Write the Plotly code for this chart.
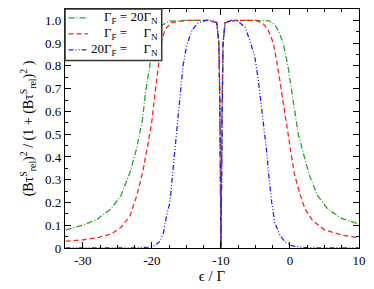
import plotly.graph_objects as go

# ---- data ----
green_x = [-32.5, -30, -28, -26, -24.5, -23.2, -22.2, -21.4, -20.9, -20.3, -19.6, -18.5, -17.4, -15, -12,
           -10.6, -10.3, -10.15, -10, -9.85, -9.7, -9.4, -8, -5, -3, -2.2, -1.6, -1.0, -0.3, 0.2, 0.7,
           1.2, 1.9, 2.8, 4, 5.5, 7.5, 10]
green_y = [0.08, 0.10, 0.125, 0.17, 0.23, 0.33, 0.44, 0.56, 0.69, 0.815, 0.94, 0.98, 0.997, 1.0, 1.0,
           0.99, 0.9, 0.6, 0.0, 0.6, 0.9, 0.99, 1.0, 1.0, 0.998, 0.98, 0.95, 0.9, 0.8, 0.7, 0.6,
           0.5, 0.42, 0.32, 0.23, 0.17, 0.13, 0.105]

red_x = [-32.5, -30, -28, -26, -24.5, -23.2, -22.2, -21.3, -20.5, -20.0, -19.6, -19.1, -18.6, -18.1,
         -17.2, -15, -12, -10.6, -10.3, -10.15, -10, -9.85, -9.7, -9.4, -8, -5, -4, -3.2, -2.4, -1.8,
         -1.2, -0.6, 0, 0.6, 1.4, 2.2, 3.3, 5, 7.5, 10]
red_y = [0.03, 0.036, 0.045, 0.06, 0.09, 0.14, 0.23, 0.34, 0.47, 0.56, 0.67, 0.80, 0.91, 0.96,
         0.99, 1.0, 1.0, 0.99, 0.9, 0.6, 0.0, 0.6, 0.9, 0.99, 1.0, 1.0, 0.99, 0.96, 0.9, 0.8,
         0.68, 0.55, 0.44, 0.33, 0.24, 0.17, 0.12, 0.08, 0.057, 0.045]

blue_x = [-32.5, -26, -22, -20.5, -19.5, -18.8, -18.3, -17.9, -17.4, -16.9, -16.4, -15.9, -15.5, -15.0,
          -14.2, -13.3, -12.1, -11, -10.6, -10.3, -10.15, -10, -9.85, -9.7, -9.4, -8.5, -7.5, -6.5,
          -5.8, -5.1, -4.6, -4.1, -3.7, -3.4, -3.1, -2.65, -2.2, -1.45, -0.7, 0.25, 2, 5, 10]
blue_y = [0, 0, 0.001, 0.004, 0.012, 0.03, 0.07, 0.14, 0.2, 0.36, 0.53, 0.67, 0.8, 0.885,
          0.957, 0.99, 1.0, 1.0, 0.99, 0.9, 0.6, 0.0, 0.6, 0.9, 0.99, 1.0, 0.995, 0.97,
          0.91, 0.84, 0.74, 0.61, 0.53, 0.43, 0.33, 0.2, 0.11, 0.056, 0.027, 0.01, 0.002, 0, 0]

x_ticks = [-30, -20, -10, 0, 10]
x_tick_text = ["-30", "-20", "-10", "0", "10"]
y_ticks = [0, 0.1, 0.2, 0.3, 0.4, 0.5, 0.6, 0.7, 0.8, 0.9, 1.0]
y_tick_text = ["0", "0.1", "0.2", "0.3", "0.4", "0.5", "0.6", "0.7", "0.8", "0.9", "1.0"]

FS = "\u2007"
names = [
    "Γ<sub>F</sub> = 20Γ<sub>N</sub>",
    "Γ<sub>F</sub> = " + FS + FS + "Γ<sub>N</sub>",
    "20Γ<sub>F</sub> = " + FS + FS + "Γ<sub>N</sub>",
]

FONT = "Times New Roman, Liberation Serif, Times, serif"
colors = ["#2ea02e", "#ff2020", "#2020ff"]
dashes = ["6px,2px,1px,2px", "5px,3px", "5px,2px,1px,2px,1px,2px"]

fig = go.Figure()
for xs, ys, nm, c, d in [(green_x, green_y, names[0], colors[0], dashes[0]),
                         (red_x, red_y, names[1], colors[1], dashes[1]),
                         (blue_x, blue_y, names[2], colors[2], dashes[2])]:
    fig.add_trace(go.Scatter(x=xs, y=ys, mode="lines", name=nm, showlegend=False,
                             line=dict(color=c, width=1.3, dash=d)))

axis_common = dict(showgrid=False, zeroline=False, showline=True, linecolor="black", linewidth=1.3,
                   mirror="allticks", ticks="inside", ticklen=6, tickwidth=1.3, tickcolor="black",
                   tickfont=dict(family=FONT, size=13, color="black"))

fig.update_xaxes(range=[-32.6, 10], tickvals=x_ticks, ticktext=x_tick_text,
                 minor=dict(dtick=2.5, tick0=0, ticks="inside", ticklen=3, tickcolor="black", tickwidth=1),
                 title=dict(text="ϵ / Γ", font=dict(family=FONT, size=15, color="black"), standoff=3),
                 **axis_common)
fig.update_yaxes(range=[0, 1.05], tickvals=y_ticks, ticktext=y_tick_text,
                 minor=dict(dtick=0.05, tick0=0, ticks="inside", ticklen=3, tickcolor="black", tickwidth=1),
                 title=dict(text="(Bτ<sup>S</sup><sub>rel</sub>)<sup>2</sup> / (1 + (Bτ<sup>S</sup><sub>rel</sub>)<sup>2</sup> )",
                            font=dict(family=FONT, size=14, color="black"), standoff=8),
                 **axis_common)

# legend box drawn in paper coordinates
box_x1 = 0.329
box_y0 = 0.784
row_y = [0.963, 0.896, 0.829]
fig.add_shape(type="rect", xref="paper", yref="paper", x0=0, x1=box_x1, y0=box_y0, y1=1,
              line=dict(color="#333333", width=1.5), fillcolor="white", layer="above")
for i in range(3):
    fig.add_shape(type="line", xref="paper", yref="paper", x0=0.012, x1=0.078, y0=row_y[i], y1=row_y[i],
                  line=dict(color=colors[i], width=1.3, dash=dashes[i]), layer="above")
    fig.add_annotation(xref="paper", yref="paper", x=0.322, y=row_y[i], xanchor="right", yanchor="middle",
                       text=names[i], showarrow=False, font=dict(family=FONT, size=13, color="black"))

fig.update_layout(
    width=374, height=289,
    margin=dict(l=65, r=14, t=8, b=36),
    paper_bgcolor="white", plot_bgcolor="white",
    font=dict(family=FONT, size=13, color="black"),
    showlegend=False,
)

fig.write_html("out.html", config={"displayModeBar": False},
               post_script="document.body.style.margin='0';")
